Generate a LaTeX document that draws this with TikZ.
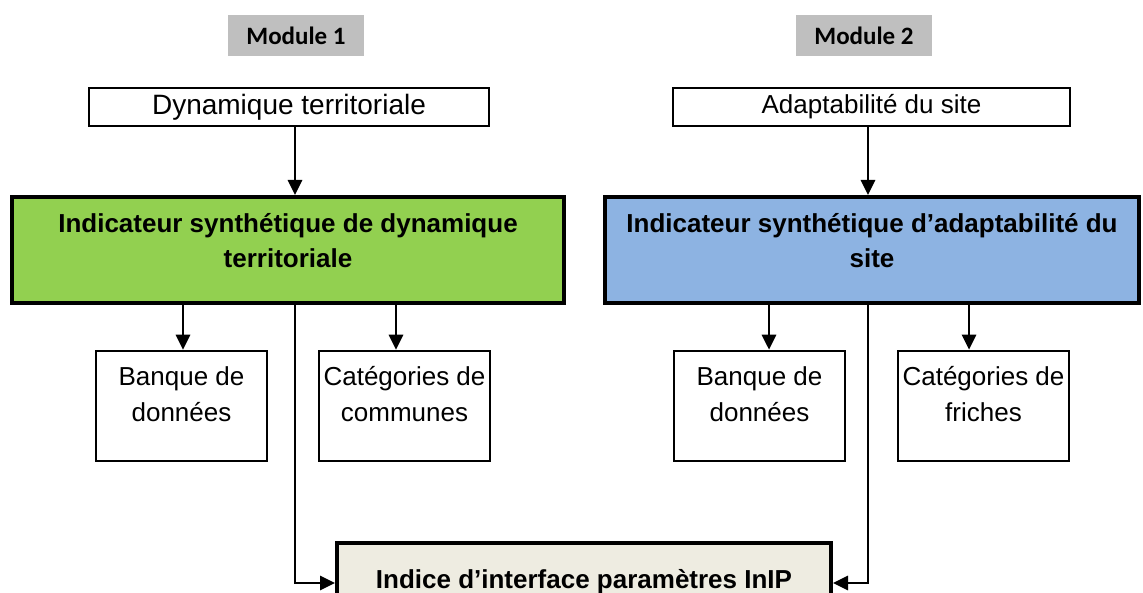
\documentclass[tikz,border=0pt]{standalone}
\usepackage{fontspec}
\setmainfont{Liberation Sans}
\newfontfamily\modfont{Carlito}
\usetikzlibrary{arrows.meta}
\definecolor{modgray}{HTML}{BFBFBF}
\definecolor{dyngreen}{HTML}{92D050}
\definecolor{adablue}{HTML}{8DB3E2}
\definecolor{inipbeige}{HTML}{EEECE1}
\tikzset{
  modbox/.style={fill=modgray,minimum width=136pt,minimum height=41pt,inner sep=0pt,
    font=\modfont\bfseries\fontsize{25}{30}\selectfont},
  thinbox/.style={draw,line width=2.6pt,fill=white,inner sep=0pt,
    font=\fontsize{26}{36}\selectfont},
  thickbox/.style={draw,line width=4pt,inner sep=0pt},
  boxtxt/.style={align=center,inner sep=0pt,anchor=north,font=\fontsize{26}{36}\selectfont},
  boldtxt/.style={boxtxt,font=\bfseries\fontsize{26}{35}\selectfont},
  conn/.style={line width=2.8pt}
}
\begin{document}
\begin{tikzpicture}[x=1pt,y=-1pt,>={Triangle[width=14pt,length=15pt]}]
\useasboundingbox (0,0) rectangle (1143,593);
\clip (0,0) rectangle (1143,593);
% modules
\node[modbox] (mod1) at (296,35.5) {Module 1};
\node[modbox] (mod2) at (864,35.5) {Module 2};
% inputs
\node[thinbox,minimum width=400pt,minimum height=38pt,font=\fontsize{28}{36}\selectfont] (dyn) at (289,107) {Dynamique territoriale};
\node[thinbox,minimum width=397pt,minimum height=38pt] (adapt) at (871.5,107) {Adaptabilité du site};
% indicateurs
\node[thickbox,fill=dyngreen,minimum width=552pt,minimum height=106pt] (isdt) at (288,250) {};
\node[boldtxt] (isdt-t) at (288,213) {Indicateur synthétique de dynamique\\territoriale};
\node[thickbox,fill=adablue,minimum width=534pt,minimum height=106pt] (isas) at (872,250) {};
\node[boldtxt] (isas-t) at (872,213) {Indicateur synthétique d’adaptabilité du\\site};
% sources
\node[thinbox,minimum width=171pt,minimum height=110pt] (bdd1) at (181.5,406) {};
\node[boxtxt] (bdd1-t) at (181.5,366) {Banque de\\données};
\node[thinbox,minimum width=171pt,minimum height=110pt] (catc) at (404.5,406) {};
\node[boxtxt] (catc-t) at (404.5,366) {Catégories de\\communes};
\node[thinbox,minimum width=171pt,minimum height=110pt] (bdd2) at (759.5,406) {};
\node[boxtxt] (bdd2-t) at (759.5,366) {Banque de\\données};
\node[thinbox,minimum width=171pt,minimum height=110pt] (catf) at (983.5,406) {};
\node[boxtxt] (catf-t) at (983.5,366) {Catégories de\\friches};
% indice
\node[thickbox,fill=inipbeige,minimum width=494pt,minimum height=100pt] (inip) at (584,593) {};
\node[boldtxt] (inip-t) at (584,569) {Indice d’interface paramètres InIP};
% connecteurs
\coordinate (xl) at (295,0);
\coordinate (xa) at (183,0);
\coordinate (xb) at (396,0);
\coordinate (xr) at (868,0);
\coordinate (xc) at (769,0);
\coordinate (xd) at (969,0);
\coordinate (yj) at (0,583);
\draw[conn,->] (dyn.south -| xl) -- (isdt.north -| xl);
\draw[conn,->] (adapt.south -| xr) -- (isas.north -| xr);
\draw[conn,->] (isdt.south -| xa) -- (bdd1.north -| xa);
\draw[conn,->] (isdt.south -| xb) -- (catc.north -| xb);
\draw[conn,->] (isas.south -| xc) -- (bdd2.north -| xc);
\draw[conn,->] (isas.south -| xd) -- (catf.north -| xd);
\draw[conn,->] (isdt.south -| xl) |- (inip.west |- yj);
\draw[conn,->] (isas.south -| xr) |- (inip.east |- yj);
\end{tikzpicture}
\end{document}
